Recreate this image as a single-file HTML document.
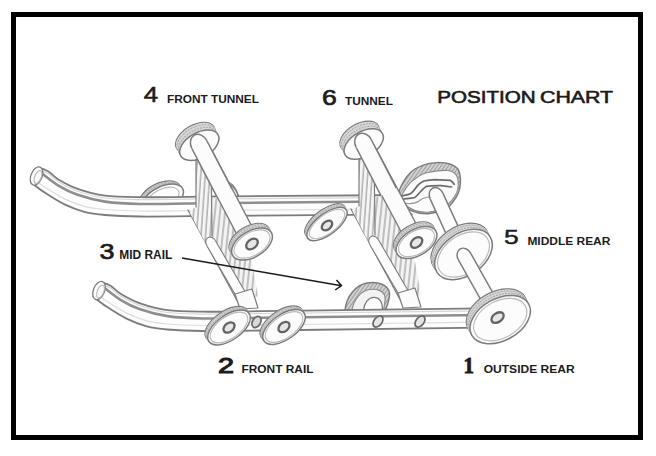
<!DOCTYPE html>
<html><head><meta charset="utf-8"><style>
html,body{margin:0;padding:0;background:#fff;width:656px;height:456px;overflow:hidden}
.frame{position:absolute;left:11px;top:12px;width:622px;height:418px;border:5px solid #000;}
svg{position:absolute;left:0;top:0}
</style></head><body>
<div class="frame"></div>
<svg width="656" height="456" viewBox="0 0 656 456">
<defs>
<filter id="soft" x="0" y="0" width="656" height="456" filterUnits="userSpaceOnUse"><feGaussianBlur stdDeviation="0.35"/></filter>
<clipPath id="clipTop"><rect x="0" y="0" width="656" height="198"/></clipPath>
<pattern id="hatch" width="3" height="3" patternUnits="userSpaceOnUse" patternTransform="rotate(35)"><rect width="3" height="3" fill="#d2d2d2"/><line x1="0.5" y1="0" x2="0.5" y2="3" stroke="#9c9c9c" stroke-width="1"/></pattern>
<pattern id="vhatch" width="4.5" height="4" patternUnits="userSpaceOnUse" patternTransform="rotate(4)"><rect width="4.5" height="4" fill="#f5f5f5"/><line x1="1" y1="0" x2="1" y2="4" stroke="#a0a0a0" stroke-width="1.2"/></pattern>
<pattern id="vhatch2" width="5" height="4" patternUnits="userSpaceOnUse" patternTransform="rotate(6)"><rect width="5" height="4" fill="#f3f3f3"/><line x1="1" y1="0" x2="1" y2="4" stroke="#9c9c9c" stroke-width="1.2"/></pattern>
</defs>
<g filter="url(#soft)">
<g clip-path="url(#clipTop)">
<ellipse cx="160.0" cy="195.5" rx="22.0" ry="12.0" transform="rotate(-26 160.0 195.5)" fill="#d6d6d6" stroke="#7c7c7c" stroke-width="1.5"/>
<ellipse cx="160.4" cy="195.9" rx="22.0" ry="12.0" transform="rotate(-26 160.4 195.9)" fill="#d6d6d6" stroke="none"/>
<ellipse cx="160.8" cy="196.2" rx="22.0" ry="12.0" transform="rotate(-26 160.8 196.2)" fill="#d6d6d6" stroke="none"/>
<ellipse cx="161.1" cy="196.6" rx="22.0" ry="12.0" transform="rotate(-26 161.1 196.6)" fill="#d6d6d6" stroke="none"/>
<ellipse cx="161.5" cy="197.0" rx="22.0" ry="12.0" transform="rotate(-26 161.5 197.0)" fill="#d6d6d6" stroke="none"/>
<ellipse cx="161.9" cy="197.4" rx="22.0" ry="12.0" transform="rotate(-26 161.9 197.4)" fill="#d6d6d6" stroke="none"/>
<ellipse cx="162.2" cy="197.8" rx="22.0" ry="12.0" transform="rotate(-26 162.2 197.8)" fill="#d6d6d6" stroke="none"/>
<ellipse cx="162.6" cy="198.1" rx="22.0" ry="12.0" transform="rotate(-26 162.6 198.1)" fill="#d6d6d6" stroke="none"/>
<ellipse cx="161.9" cy="197.4" rx="22.0" ry="12.0" transform="rotate(-26 161.9 197.4)" fill="none" stroke="#a6a6a6" stroke-width="0.9" stroke-dasharray="2 1"/>
<ellipse cx="160.9" cy="196.4" rx="22.0" ry="12.0" transform="rotate(-26 160.9 196.4)" fill="none" stroke="#a6a6a6" stroke-width="0.9" stroke-dasharray="2 1"/>
<ellipse cx="163.0" cy="198.5" rx="22.0" ry="12.0" transform="rotate(-26 163.0 198.5)" fill="#fcfcfc" stroke="#7c7c7c" stroke-width="1.5"/>
<ellipse cx="163.0" cy="198.5" rx="17.2" ry="9.4" transform="rotate(-26 163.0 198.5)" fill="none" stroke="#b8b8b8" stroke-width="1.1"/>
<ellipse cx="230.5" cy="195.5" rx="7.0" ry="13.5" transform="rotate(-18 230.5 195.5)" fill="#d6d6d6" stroke="#7c7c7c" stroke-width="1.5"/>
<ellipse cx="230.8" cy="196.0" rx="7.0" ry="13.5" transform="rotate(-18 230.8 196.0)" fill="#d6d6d6" stroke="none"/>
<ellipse cx="231.0" cy="196.5" rx="7.0" ry="13.5" transform="rotate(-18 231.0 196.5)" fill="#d6d6d6" stroke="none"/>
<ellipse cx="231.2" cy="197.0" rx="7.0" ry="13.5" transform="rotate(-18 231.2 197.0)" fill="#d6d6d6" stroke="none"/>
<ellipse cx="231.2" cy="196.8" rx="7.0" ry="13.5" transform="rotate(-18 231.2 196.8)" fill="none" stroke="#a6a6a6" stroke-width="0.9" stroke-dasharray="2 1"/>
<ellipse cx="230.8" cy="196.1" rx="7.0" ry="13.5" transform="rotate(-18 230.8 196.1)" fill="none" stroke="#a6a6a6" stroke-width="0.9" stroke-dasharray="2 1"/>
<ellipse cx="231.5" cy="197.5" rx="7.0" ry="13.5" transform="rotate(-18 231.5 197.5)" fill="#fcfcfc" stroke="#7c7c7c" stroke-width="1.5"/>
</g>
<path d="M38.0,167.6 C39.7,168.2 44.7,169.3 48.0,171.2 C51.3,173.1 53.1,176.3 58.0,179.2 C62.9,182.1 69.8,186.1 77.6,188.8 C85.4,191.5 94.6,194.2 105.0,195.6 C115.4,197.0 124.2,197.0 140.0,197.2 C155.8,197.4 190.0,196.7 200.0,196.6 L412,195 L412,214.3 L200.0,216.0 C190.0,216.1 155.8,216.7 140.0,216.5 C124.2,216.3 114.3,215.8 105.0,215.0 C95.7,214.2 91.0,213.6 84.2,211.8 C77.5,210.0 71.1,207.6 64.5,204.4 C57.9,201.2 50.3,196.3 44.7,192.6 C39.1,188.9 33.3,184.1 31.0,182.4Z" fill="#fdfdfd" stroke="none"/>
<path d="M38.0,167.6 C39.7,168.2 44.7,169.3 48.0,171.2 C51.3,173.1 53.1,176.3 58.0,179.2 C62.9,182.1 69.8,186.1 77.6,188.8 C85.4,191.5 94.6,194.2 105.0,195.6 C115.4,197.0 124.2,197.0 140.0,197.2 C155.8,197.4 190.0,196.7 200.0,196.6 L412,195" fill="none" stroke="#7c7c7c" stroke-width="1.8" stroke-linecap="round"/>
<path d="M31.0,182.4 C33.3,184.1 39.1,188.9 44.7,192.6 C50.3,196.3 57.9,201.2 64.5,204.4 C71.1,207.6 77.5,210.0 84.2,211.8 C91.0,213.6 95.7,214.2 105.0,215.0 C114.3,215.8 124.2,216.3 140.0,216.5 C155.8,216.7 190.0,216.1 200.0,216.0 L412,214.3" fill="none" stroke="#7c7c7c" stroke-width="1.8" stroke-linecap="round"/>
<path d="M42.0,173.5 C44.7,175.5 52.1,181.8 58.0,185.3 C63.9,188.9 69.8,192.1 77.6,194.8 C85.4,197.5 94.6,200.1 105.0,201.6 C115.4,203.1 124.2,203.7 140.0,204.0 C155.8,204.3 190.0,203.4 200.0,203.3 L412,201.3" fill="none" stroke="#8e8e8e" stroke-width="2.6" stroke-linecap="round"/>
<path d="M38.0,170.0 C39.7,170.6 44.7,171.7 48.0,173.6 C51.3,175.5 53.1,178.7 58.0,181.6 C62.9,184.5 69.8,188.5 77.6,191.2 C85.4,193.9 94.6,196.6 105.0,198.0 C115.4,199.4 124.2,199.4 140.0,199.6 C155.8,199.8 190.0,199.1 200.0,199.0 L412,197.4" fill="none" stroke="#d6d6d6" stroke-width="1.2" stroke-linecap="round"/>
<path d="M31.0,176.9 C33.3,178.6 39.1,183.4 44.7,187.1 C50.3,190.8 57.9,195.7 64.5,198.9 C71.1,202.1 77.5,204.5 84.2,206.3 C91.0,208.1 95.7,208.7 105.0,209.5 C114.3,210.3 124.2,210.8 140.0,211.0 C155.8,211.2 190.0,210.6 200.0,210.5 L412,208.8" fill="none" stroke="#dedede" stroke-width="1.2" stroke-linecap="round"/>
<ellipse cx="36.5" cy="176.0" rx="5.6" ry="9.6" transform="rotate(22 36.5 176.0)" fill="#fafafa" stroke="#7c7c7c" stroke-width="1.3"/>
<ellipse cx="38.0" cy="177.0" rx="3.2" ry="6.8" transform="rotate(22 38.0 177.0)" fill="none" stroke="#b4b4b4" stroke-width="1"/>
<path d="M399,191 C402,183 406,177 411,172 C418,166 428,163 437,162.6 C445,162.3 453,164 457.5,168.5 C461,173 461,183 459.5,189.6 C458,195 455,200 450,205.4 C444,210 436,213 428,213.8 C420,214 410,212 403,205 C399,200 398,195 399,191 Z" fill="url(#hatch)" stroke="#7c7c7c" stroke-width="1.4"/>
<path d="M403,193 C407,186 411,181 415,179 C420,175 424,173 428,172.5 C435,171 442,170 447.6,170.5 C452,171 455,173 456.5,175.5 C458.5,179 458.5,184 457.8,189.4 C456.5,194.5 453.5,199 448.5,204 C443,208.5 436,211.5 428,212.2 C420,212.5 411,210.5 404.5,204 C401,200 401,196 403,193 Z" fill="#fbfbfb" stroke="#8a8a8a" stroke-width="1.1"/>
<path d="M401.6,196.2 C405,195 408,195 410.8,193.5 C414,191 416,187 418.7,184.3 C420,183 422,182 424,181 C428,180 431,180 434.5,179.7 L450.3,180.4 C452,181 453,182.5 454.2,184.3" fill="none" stroke="#6c6c6c" stroke-width="1.8" stroke-linecap="round"/>
<path d="M402.9,199 C407,198.5 411,198.5 414.7,197.5 C417,196 419,193 421.3,190.9 C423,189 425,187 426.6,186.3 C431,185.5 436,185.6 441,185.6 L451.6,187" fill="none" stroke="#6c6c6c" stroke-width="1.7" stroke-linecap="round"/>
<path d="M404,203 C410,204 415,204 419,201 C422,198 425,197 432,197" fill="none" stroke="#9a9a9a" stroke-width="1.2" stroke-linecap="round"/>
<ellipse cx="325.0" cy="220.5" rx="24.0" ry="10.5" transform="rotate(-37 325.0 220.5)" fill="#d6d6d6" stroke="#7c7c7c" stroke-width="1.5"/>
<ellipse cx="325.2" cy="220.9" rx="24.0" ry="10.5" transform="rotate(-37 325.2 220.9)" fill="#d6d6d6" stroke="none"/>
<ellipse cx="325.5" cy="221.4" rx="24.0" ry="10.5" transform="rotate(-37 325.5 221.4)" fill="#d6d6d6" stroke="none"/>
<ellipse cx="325.8" cy="221.8" rx="24.0" ry="10.5" transform="rotate(-37 325.8 221.8)" fill="#d6d6d6" stroke="none"/>
<ellipse cx="326.0" cy="222.2" rx="24.0" ry="10.5" transform="rotate(-37 326.0 222.2)" fill="#d6d6d6" stroke="none"/>
<ellipse cx="326.2" cy="222.7" rx="24.0" ry="10.5" transform="rotate(-37 326.2 222.7)" fill="#d6d6d6" stroke="none"/>
<ellipse cx="326.5" cy="223.1" rx="24.0" ry="10.5" transform="rotate(-37 326.5 223.1)" fill="#d6d6d6" stroke="none"/>
<ellipse cx="326.8" cy="223.6" rx="24.0" ry="10.5" transform="rotate(-37 326.8 223.6)" fill="#d6d6d6" stroke="none"/>
<ellipse cx="326.3" cy="222.8" rx="24.0" ry="10.5" transform="rotate(-37 326.3 222.8)" fill="none" stroke="#a6a6a6" stroke-width="0.9" stroke-dasharray="2 1"/>
<ellipse cx="325.6" cy="221.6" rx="24.0" ry="10.5" transform="rotate(-37 325.6 221.6)" fill="none" stroke="#a6a6a6" stroke-width="0.9" stroke-dasharray="2 1"/>
<ellipse cx="327.0" cy="224.0" rx="24.0" ry="10.5" transform="rotate(-37 327.0 224.0)" fill="#fcfcfc" stroke="#7c7c7c" stroke-width="1.5"/>
<ellipse cx="327.0" cy="224.0" rx="21.1" ry="9.2" transform="rotate(-37 327.0 224.0)" fill="none" stroke="#b8b8b8" stroke-width="1.1"/>
<ellipse cx="327.0" cy="225.5" rx="6.0" ry="4.0" transform="rotate(-40 327.0 225.5)" fill="#e6e6e6" stroke="#646464" stroke-width="2.3"/>
<path d="M209.0,198.0 L222.0,198.0 L244.0,246.0 L252.0,262.0 L258.0,296.0 L244.0,301.0 L214.0,246.0 L209.0,240.0Z" fill="url(#vhatch2)" stroke="none" stroke-width="1.2" stroke-linejoin="round"/>
<path d="M188.0,210.0 L240.0,306.0" fill="none" stroke="#7c7c7c" stroke-width="1.3" stroke-linecap="round"/>
<path d="M196.0,154.0 L211.0,149.0 L212.0,236.0 L206.0,244.0 L189.0,211.0 L196.0,207.0Z" fill="url(#vhatch)" stroke="none" stroke-width="1.2" stroke-linejoin="round"/>
<path d="M196.0,154.0 L196.0,207.0 M211.0,149.0 L212.0,236.0" fill="none" stroke="#7c7c7c" stroke-width="1.2" stroke-linecap="round"/>
<path d="M206.7,245.5 L238.7,300.5 L247.3,295.5 L215.3,240.5Z" fill="#fcfcfc" stroke="none"/>
<path d="M206.7,245.5 L238.7,300.5 M215.3,240.5 L247.3,295.5" stroke="#7c7c7c" stroke-width="1.1" fill="none"/>
<path d="M206.7,245.5 A5.0,4.0 59.8 0 1 215.3,240.5" fill="#fcfcfc" stroke="#7c7c7c" stroke-width="1.1"/>
<path d="M235.0,294.0 L252.0,289.0 L258.0,308.0 L240.0,309.0Z" fill="#fbfbfb" stroke="#7c7c7c" stroke-width="1.2" stroke-linejoin="round"/>
<path d="M372.0,197.0 L385.0,197.0 L407.0,245.0 L415.0,261.0 L421.0,295.0 L407.0,300.0 L377.0,245.0 L372.0,239.0Z" fill="url(#vhatch2)" stroke="none" stroke-width="1.2" stroke-linejoin="round"/>
<path d="M351.0,209.0 L403.0,305.0" fill="none" stroke="#7c7c7c" stroke-width="1.3" stroke-linecap="round"/>
<path d="M359.0,153.0 L374.0,148.0 L375.0,235.0 L369.0,243.0 L352.0,210.0 L359.0,206.0Z" fill="url(#vhatch)" stroke="none" stroke-width="1.2" stroke-linejoin="round"/>
<path d="M359.0,153.0 L359.0,206.0 M374.0,148.0 L375.0,235.0" fill="none" stroke="#7c7c7c" stroke-width="1.2" stroke-linecap="round"/>
<path d="M369.7,244.5 L401.7,299.5 L410.3,294.5 L378.3,239.5Z" fill="#fcfcfc" stroke="none"/>
<path d="M369.7,244.5 L401.7,299.5 M378.3,239.5 L410.3,294.5" stroke="#7c7c7c" stroke-width="1.1" fill="none"/>
<path d="M369.7,244.5 A5.0,4.0 59.8 0 1 378.3,239.5" fill="#fcfcfc" stroke="#7c7c7c" stroke-width="1.1"/>
<path d="M398.0,293.0 L415.0,288.0 L421.0,307.0 L403.0,308.0Z" fill="#fbfbfb" stroke="#7c7c7c" stroke-width="1.2" stroke-linejoin="round"/>
<path d="M191.8,148.5 L243.5,247.0 L258.5,239.0 L206.8,140.5Z" fill="#fcfcfc" stroke="none"/>
<path d="M191.8,148.5 L243.5,247.0 M206.8,140.5 L258.5,239.0" stroke="#7c7c7c" stroke-width="1.45" fill="none"/>
<path d="M191.8,148.5 A8.5,6.8 62.3 0 1 206.8,140.5" fill="#fcfcfc" stroke="#7c7c7c" stroke-width="1.45"/>
<path d="M356.2,147.5 L409.0,246.5 L424.0,238.5 L371.2,139.5Z" fill="#fcfcfc" stroke="none"/>
<path d="M356.2,147.5 L409.0,246.5 M371.2,139.5 L424.0,238.5" stroke="#7c7c7c" stroke-width="1.45" fill="none"/>
<path d="M356.2,147.5 A8.5,6.8 61.9 0 1 371.2,139.5" fill="#fcfcfc" stroke="#7c7c7c" stroke-width="1.45"/>
<path d="M430.1,198.9 L457.6,258.9 L470.4,253.1 L442.9,193.1Z" fill="#fcfcfc" stroke="none"/>
<path d="M430.1,198.9 L457.6,258.9 M442.9,193.1 L470.4,253.1" stroke="#7c7c7c" stroke-width="1.45" fill="none"/>
<path d="M430.1,198.9 A7.0,5.6 65.4 0 1 442.9,193.1" fill="#fcfcfc" stroke="#7c7c7c" stroke-width="1.45"/>
<ellipse cx="195.3" cy="137.7" rx="21.5" ry="12.5" transform="rotate(-30 195.3 137.7)" fill="#d6d6d6" stroke="#7c7c7c" stroke-width="1.5"/>
<ellipse cx="195.5" cy="138.1" rx="21.5" ry="12.5" transform="rotate(-30 195.5 138.1)" fill="#d6d6d6" stroke="none"/>
<ellipse cx="195.8" cy="138.6" rx="21.5" ry="12.5" transform="rotate(-30 195.8 138.6)" fill="#d6d6d6" stroke="none"/>
<ellipse cx="196.0" cy="139.0" rx="21.5" ry="12.5" transform="rotate(-30 196.0 139.0)" fill="#d6d6d6" stroke="none"/>
<ellipse cx="196.2" cy="139.5" rx="21.5" ry="12.5" transform="rotate(-30 196.2 139.5)" fill="#d6d6d6" stroke="none"/>
<ellipse cx="196.5" cy="139.9" rx="21.5" ry="12.5" transform="rotate(-30 196.5 139.9)" fill="#d6d6d6" stroke="none"/>
<ellipse cx="196.7" cy="140.3" rx="21.5" ry="12.5" transform="rotate(-30 196.7 140.3)" fill="#d6d6d6" stroke="none"/>
<ellipse cx="196.9" cy="140.8" rx="21.5" ry="12.5" transform="rotate(-30 196.9 140.8)" fill="#d6d6d6" stroke="none"/>
<ellipse cx="197.2" cy="141.2" rx="21.5" ry="12.5" transform="rotate(-30 197.2 141.2)" fill="#d6d6d6" stroke="none"/>
<ellipse cx="197.4" cy="141.7" rx="21.5" ry="12.5" transform="rotate(-30 197.4 141.7)" fill="#d6d6d6" stroke="none"/>
<ellipse cx="197.7" cy="142.1" rx="21.5" ry="12.5" transform="rotate(-30 197.7 142.1)" fill="#d6d6d6" stroke="none"/>
<ellipse cx="197.9" cy="142.6" rx="21.5" ry="12.5" transform="rotate(-30 197.9 142.6)" fill="#d6d6d6" stroke="none"/>
<ellipse cx="198.1" cy="143.0" rx="21.5" ry="12.5" transform="rotate(-30 198.1 143.0)" fill="#d6d6d6" stroke="none"/>
<ellipse cx="198.4" cy="143.4" rx="21.5" ry="12.5" transform="rotate(-30 198.4 143.4)" fill="#d6d6d6" stroke="none"/>
<ellipse cx="198.6" cy="143.9" rx="21.5" ry="12.5" transform="rotate(-30 198.6 143.9)" fill="#d6d6d6" stroke="none"/>
<ellipse cx="198.8" cy="144.3" rx="21.5" ry="12.5" transform="rotate(-30 198.8 144.3)" fill="#d6d6d6" stroke="none"/>
<ellipse cx="199.1" cy="144.8" rx="21.5" ry="12.5" transform="rotate(-30 199.1 144.8)" fill="#d6d6d6" stroke="none"/>
<ellipse cx="197.9" cy="142.6" rx="21.5" ry="12.5" transform="rotate(-30 197.9 142.6)" fill="none" stroke="#a6a6a6" stroke-width="0.9" stroke-dasharray="2 1"/>
<ellipse cx="196.5" cy="139.9" rx="21.5" ry="12.5" transform="rotate(-30 196.5 139.9)" fill="none" stroke="#a6a6a6" stroke-width="0.9" stroke-dasharray="2 1"/>
<ellipse cx="199.3" cy="145.2" rx="21.5" ry="12.5" transform="rotate(-30 199.3 145.2)" fill="#fcfcfc" stroke="#7c7c7c" stroke-width="1.5"/>
<ellipse cx="359.7" cy="136.5" rx="21.5" ry="12.5" transform="rotate(-30 359.7 136.5)" fill="#d6d6d6" stroke="#7c7c7c" stroke-width="1.5"/>
<ellipse cx="359.9" cy="136.9" rx="21.5" ry="12.5" transform="rotate(-30 359.9 136.9)" fill="#d6d6d6" stroke="none"/>
<ellipse cx="360.2" cy="137.4" rx="21.5" ry="12.5" transform="rotate(-30 360.2 137.4)" fill="#d6d6d6" stroke="none"/>
<ellipse cx="360.4" cy="137.8" rx="21.5" ry="12.5" transform="rotate(-30 360.4 137.8)" fill="#d6d6d6" stroke="none"/>
<ellipse cx="360.6" cy="138.3" rx="21.5" ry="12.5" transform="rotate(-30 360.6 138.3)" fill="#d6d6d6" stroke="none"/>
<ellipse cx="360.9" cy="138.7" rx="21.5" ry="12.5" transform="rotate(-30 360.9 138.7)" fill="#d6d6d6" stroke="none"/>
<ellipse cx="361.1" cy="139.1" rx="21.5" ry="12.5" transform="rotate(-30 361.1 139.1)" fill="#d6d6d6" stroke="none"/>
<ellipse cx="361.3" cy="139.6" rx="21.5" ry="12.5" transform="rotate(-30 361.3 139.6)" fill="#d6d6d6" stroke="none"/>
<ellipse cx="361.6" cy="140.0" rx="21.5" ry="12.5" transform="rotate(-30 361.6 140.0)" fill="#d6d6d6" stroke="none"/>
<ellipse cx="361.8" cy="140.5" rx="21.5" ry="12.5" transform="rotate(-30 361.8 140.5)" fill="#d6d6d6" stroke="none"/>
<ellipse cx="362.1" cy="140.9" rx="21.5" ry="12.5" transform="rotate(-30 362.1 140.9)" fill="#d6d6d6" stroke="none"/>
<ellipse cx="362.3" cy="141.4" rx="21.5" ry="12.5" transform="rotate(-30 362.3 141.4)" fill="#d6d6d6" stroke="none"/>
<ellipse cx="362.5" cy="141.8" rx="21.5" ry="12.5" transform="rotate(-30 362.5 141.8)" fill="#d6d6d6" stroke="none"/>
<ellipse cx="362.8" cy="142.2" rx="21.5" ry="12.5" transform="rotate(-30 362.8 142.2)" fill="#d6d6d6" stroke="none"/>
<ellipse cx="363.0" cy="142.7" rx="21.5" ry="12.5" transform="rotate(-30 363.0 142.7)" fill="#d6d6d6" stroke="none"/>
<ellipse cx="363.2" cy="143.1" rx="21.5" ry="12.5" transform="rotate(-30 363.2 143.1)" fill="#d6d6d6" stroke="none"/>
<ellipse cx="363.5" cy="143.6" rx="21.5" ry="12.5" transform="rotate(-30 363.5 143.6)" fill="#d6d6d6" stroke="none"/>
<ellipse cx="362.3" cy="141.4" rx="21.5" ry="12.5" transform="rotate(-30 362.3 141.4)" fill="none" stroke="#a6a6a6" stroke-width="0.9" stroke-dasharray="2 1"/>
<ellipse cx="360.9" cy="138.8" rx="21.5" ry="12.5" transform="rotate(-30 360.9 138.8)" fill="none" stroke="#a6a6a6" stroke-width="0.9" stroke-dasharray="2 1"/>
<ellipse cx="363.7" cy="144.0" rx="21.5" ry="12.5" transform="rotate(-30 363.7 144.0)" fill="#fcfcfc" stroke="#7c7c7c" stroke-width="1.5"/>
<path d="M191.8,148.4 L217.0,196.9 L232.0,189.1 L206.8,140.6Z" fill="#fcfcfc" stroke="none"/>
<path d="M191.8,148.4 L217.0,196.9 M206.8,140.6 L232.0,189.1" stroke="#7c7c7c" stroke-width="1.45" fill="none"/>
<path d="M191.8,148.4 A8.5,6.8 62.5 0 1 206.8,140.6" fill="#fcfcfc" stroke="#7c7c7c" stroke-width="1.45"/>
<path d="M356.1,147.4 L381.1,195.9 L396.3,188.1 L371.3,139.6Z" fill="#fcfcfc" stroke="none"/>
<path d="M356.1,147.4 L381.1,195.9 M371.3,139.6 L396.3,188.1" stroke="#7c7c7c" stroke-width="1.45" fill="none"/>
<path d="M356.1,147.4 A8.5,6.8 62.7 0 1 371.3,139.6" fill="#fcfcfc" stroke="#7c7c7c" stroke-width="1.45"/>
<ellipse cx="249.5" cy="239.5" rx="22.5" ry="13.0" transform="rotate(-31 249.5 239.5)" fill="#d6d6d6" stroke="#7c7c7c" stroke-width="1.5"/>
<ellipse cx="249.8" cy="239.9" rx="22.5" ry="13.0" transform="rotate(-31 249.8 239.9)" fill="#d6d6d6" stroke="none"/>
<ellipse cx="250.0" cy="240.4" rx="22.5" ry="13.0" transform="rotate(-31 250.0 240.4)" fill="#d6d6d6" stroke="none"/>
<ellipse cx="250.2" cy="240.8" rx="22.5" ry="13.0" transform="rotate(-31 250.2 240.8)" fill="#d6d6d6" stroke="none"/>
<ellipse cx="250.5" cy="241.3" rx="22.5" ry="13.0" transform="rotate(-31 250.5 241.3)" fill="#d6d6d6" stroke="none"/>
<ellipse cx="250.8" cy="241.8" rx="22.5" ry="13.0" transform="rotate(-31 250.8 241.8)" fill="#d6d6d6" stroke="none"/>
<ellipse cx="251.0" cy="242.2" rx="22.5" ry="13.0" transform="rotate(-31 251.0 242.2)" fill="#d6d6d6" stroke="none"/>
<ellipse cx="251.2" cy="242.7" rx="22.5" ry="13.0" transform="rotate(-31 251.2 242.7)" fill="#d6d6d6" stroke="none"/>
<ellipse cx="251.5" cy="243.1" rx="22.5" ry="13.0" transform="rotate(-31 251.5 243.1)" fill="#d6d6d6" stroke="none"/>
<ellipse cx="251.8" cy="243.6" rx="22.5" ry="13.0" transform="rotate(-31 251.8 243.6)" fill="#d6d6d6" stroke="none"/>
<ellipse cx="251.1" cy="242.4" rx="22.5" ry="13.0" transform="rotate(-31 251.1 242.4)" fill="none" stroke="#a6a6a6" stroke-width="0.9" stroke-dasharray="2 1"/>
<ellipse cx="250.2" cy="240.8" rx="22.5" ry="13.0" transform="rotate(-31 250.2 240.8)" fill="none" stroke="#a6a6a6" stroke-width="0.9" stroke-dasharray="2 1"/>
<ellipse cx="252.0" cy="244.0" rx="22.5" ry="13.0" transform="rotate(-31 252.0 244.0)" fill="#fcfcfc" stroke="#7c7c7c" stroke-width="1.5"/>
<ellipse cx="252.0" cy="244.0" rx="19.8" ry="11.4" transform="rotate(-31 252.0 244.0)" fill="none" stroke="#b8b8b8" stroke-width="1.1"/>
<ellipse cx="252.0" cy="244.0" rx="6.5" ry="4.5" transform="rotate(-40 252.0 244.0)" fill="#e6e6e6" stroke="#646464" stroke-width="2.3"/>
<ellipse cx="414.0" cy="238.0" rx="22.5" ry="13.0" transform="rotate(-31 414.0 238.0)" fill="#d6d6d6" stroke="#7c7c7c" stroke-width="1.5"/>
<ellipse cx="414.2" cy="238.4" rx="22.5" ry="13.0" transform="rotate(-31 414.2 238.4)" fill="#d6d6d6" stroke="none"/>
<ellipse cx="414.5" cy="238.9" rx="22.5" ry="13.0" transform="rotate(-31 414.5 238.9)" fill="#d6d6d6" stroke="none"/>
<ellipse cx="414.8" cy="239.3" rx="22.5" ry="13.0" transform="rotate(-31 414.8 239.3)" fill="#d6d6d6" stroke="none"/>
<ellipse cx="415.0" cy="239.8" rx="22.5" ry="13.0" transform="rotate(-31 415.0 239.8)" fill="#d6d6d6" stroke="none"/>
<ellipse cx="415.2" cy="240.2" rx="22.5" ry="13.0" transform="rotate(-31 415.2 240.2)" fill="#d6d6d6" stroke="none"/>
<ellipse cx="415.5" cy="240.7" rx="22.5" ry="13.0" transform="rotate(-31 415.5 240.7)" fill="#d6d6d6" stroke="none"/>
<ellipse cx="415.8" cy="241.2" rx="22.5" ry="13.0" transform="rotate(-31 415.8 241.2)" fill="#d6d6d6" stroke="none"/>
<ellipse cx="416.0" cy="241.6" rx="22.5" ry="13.0" transform="rotate(-31 416.0 241.6)" fill="#d6d6d6" stroke="none"/>
<ellipse cx="416.2" cy="242.1" rx="22.5" ry="13.0" transform="rotate(-31 416.2 242.1)" fill="#d6d6d6" stroke="none"/>
<ellipse cx="415.6" cy="240.9" rx="22.5" ry="13.0" transform="rotate(-31 415.6 240.9)" fill="none" stroke="#a6a6a6" stroke-width="0.9" stroke-dasharray="2 1"/>
<ellipse cx="414.8" cy="239.3" rx="22.5" ry="13.0" transform="rotate(-31 414.8 239.3)" fill="none" stroke="#a6a6a6" stroke-width="0.9" stroke-dasharray="2 1"/>
<ellipse cx="416.5" cy="242.5" rx="22.5" ry="13.0" transform="rotate(-31 416.5 242.5)" fill="#fcfcfc" stroke="#7c7c7c" stroke-width="1.5"/>
<ellipse cx="416.5" cy="242.5" rx="19.8" ry="11.4" transform="rotate(-31 416.5 242.5)" fill="none" stroke="#b8b8b8" stroke-width="1.1"/>
<ellipse cx="416.5" cy="242.5" rx="6.5" ry="4.5" transform="rotate(-40 416.5 242.5)" fill="#e6e6e6" stroke="#646464" stroke-width="2.3"/>
<ellipse cx="460.0" cy="248.5" rx="32.0" ry="21.0" transform="rotate(-35 460.0 248.5)" fill="#d6d6d6" stroke="#7c7c7c" stroke-width="1.5"/>
<ellipse cx="460.3" cy="249.0" rx="32.0" ry="21.0" transform="rotate(-35 460.3 249.0)" fill="#d6d6d6" stroke="none"/>
<ellipse cx="460.5" cy="249.4" rx="32.0" ry="21.0" transform="rotate(-35 460.5 249.4)" fill="#d6d6d6" stroke="none"/>
<ellipse cx="460.8" cy="249.9" rx="32.0" ry="21.0" transform="rotate(-35 460.8 249.9)" fill="#d6d6d6" stroke="none"/>
<ellipse cx="461.1" cy="250.3" rx="32.0" ry="21.0" transform="rotate(-35 461.1 250.3)" fill="#d6d6d6" stroke="none"/>
<ellipse cx="461.3" cy="250.8" rx="32.0" ry="21.0" transform="rotate(-35 461.3 250.8)" fill="#d6d6d6" stroke="none"/>
<ellipse cx="461.6" cy="251.3" rx="32.0" ry="21.0" transform="rotate(-35 461.6 251.3)" fill="#d6d6d6" stroke="none"/>
<ellipse cx="461.9" cy="251.7" rx="32.0" ry="21.0" transform="rotate(-35 461.9 251.7)" fill="#d6d6d6" stroke="none"/>
<ellipse cx="462.2" cy="252.2" rx="32.0" ry="21.0" transform="rotate(-35 462.2 252.2)" fill="#d6d6d6" stroke="none"/>
<ellipse cx="462.4" cy="252.7" rx="32.0" ry="21.0" transform="rotate(-35 462.4 252.7)" fill="#d6d6d6" stroke="none"/>
<ellipse cx="462.7" cy="253.1" rx="32.0" ry="21.0" transform="rotate(-35 462.7 253.1)" fill="#d6d6d6" stroke="none"/>
<ellipse cx="463.0" cy="253.6" rx="32.0" ry="21.0" transform="rotate(-35 463.0 253.6)" fill="#d6d6d6" stroke="none"/>
<ellipse cx="463.2" cy="254.0" rx="32.0" ry="21.0" transform="rotate(-35 463.2 254.0)" fill="#d6d6d6" stroke="none"/>
<ellipse cx="462.3" cy="252.4" rx="32.0" ry="21.0" transform="rotate(-35 462.3 252.4)" fill="none" stroke="#a6a6a6" stroke-width="0.9" stroke-dasharray="2 1"/>
<ellipse cx="461.1" cy="250.3" rx="32.0" ry="21.0" transform="rotate(-35 461.1 250.3)" fill="none" stroke="#a6a6a6" stroke-width="0.9" stroke-dasharray="2 1"/>
<ellipse cx="463.5" cy="254.5" rx="32.0" ry="21.0" transform="rotate(-35 463.5 254.5)" fill="#fcfcfc" stroke="#7c7c7c" stroke-width="1.5"/>
<ellipse cx="463.5" cy="254.5" rx="28.8" ry="18.9" transform="rotate(-35 463.5 254.5)" fill="none" stroke="#b8b8b8" stroke-width="1.1"/>
<path d="M458.4,259.9 L492.9,321.4 L505.1,314.6 L470.6,253.1Z" fill="#fcfcfc" stroke="none"/>
<path d="M458.4,259.9 L492.9,321.4 M470.6,253.1 L505.1,314.6" stroke="#7c7c7c" stroke-width="1.45" fill="none"/>
<path d="M458.4,259.9 A7.0,5.6 60.7 0 1 470.6,253.1" fill="#fcfcfc" stroke="#7c7c7c" stroke-width="1.45"/>
<path d="M345,310 C346.5,296 356,285 367,283 C378,281 388.5,285 389.5,293 C390,299 387.5,305 385.5,310 Z" fill="url(#hatch)" stroke="#7c7c7c" stroke-width="1.4"/>
<path d="M352,310 C354,299 361,291 369.5,289.5 C377,288.5 384,291 385,297 C385.5,301 384.5,305 383.5,310 Z" fill="#f2f2f2" stroke="#8a8a8a" stroke-width="1.1"/>
<path d="M363.5,310 C364.5,302.5 368.5,297.5 374,297.4 C379,297.3 382.5,301 382.5,310 Z" fill="#fdfdfd" stroke="#7c7c7c" stroke-width="1.3"/>
<path d="M100.5,282.1 C102.2,282.7 107.2,283.8 110.5,285.7 C113.8,287.6 115.6,290.8 120.5,293.7 C125.4,296.6 132.3,300.6 140.1,303.3 C147.9,306.0 157.1,308.7 167.5,310.1 C177.9,311.5 186.7,311.5 202.5,311.7 C218.3,311.9 252.5,311.2 262.5,311.1 L482,308.4 L482,327.6 L262.5,330.5 C252.5,330.6 218.3,331.2 202.5,331.0 C186.7,330.8 176.8,330.3 167.5,329.5 C158.2,328.7 153.4,328.1 146.7,326.3 C139.9,324.5 133.6,322.1 127.0,318.9 C120.4,315.7 112.8,310.8 107.2,307.1 C101.6,303.4 95.8,298.6 93.5,296.9Z" fill="#fdfdfd" stroke="none"/>
<path d="M100.5,282.1 C102.2,282.7 107.2,283.8 110.5,285.7 C113.8,287.6 115.6,290.8 120.5,293.7 C125.4,296.6 132.3,300.6 140.1,303.3 C147.9,306.0 157.1,308.7 167.5,310.1 C177.9,311.5 186.7,311.5 202.5,311.7 C218.3,311.9 252.5,311.2 262.5,311.1 L482,308.4" fill="none" stroke="#7c7c7c" stroke-width="1.8" stroke-linecap="round"/>
<path d="M93.5,296.9 C95.8,298.6 101.6,303.4 107.2,307.1 C112.8,310.8 120.4,315.7 127.0,318.9 C133.6,322.1 139.9,324.5 146.7,326.3 C153.4,328.1 158.2,328.7 167.5,329.5 C176.8,330.3 186.7,330.8 202.5,331.0 C218.3,331.2 252.5,330.6 262.5,330.5 L482,327.6" fill="none" stroke="#7c7c7c" stroke-width="1.8" stroke-linecap="round"/>
<path d="M104.5,288.0 C107.2,290.0 114.6,296.2 120.5,299.8 C126.4,303.4 132.3,306.6 140.1,309.3 C147.9,312.0 157.1,314.6 167.5,316.1 C177.9,317.6 186.7,318.2 202.5,318.5 C218.3,318.8 252.5,317.9 262.5,317.8 L482,315" fill="none" stroke="#8e8e8e" stroke-width="2.6" stroke-linecap="round"/>
<path d="M100.5,284.5 C102.2,285.1 107.2,286.2 110.5,288.1 C113.8,290.0 115.6,293.2 120.5,296.1 C125.4,299.0 132.3,303.0 140.1,305.7 C147.9,308.4 157.1,311.1 167.5,312.5 C177.9,313.9 186.7,313.9 202.5,314.1 C218.3,314.3 252.5,313.6 262.5,313.5 L482,310.79999999999995" fill="none" stroke="#d6d6d6" stroke-width="1.2" stroke-linecap="round"/>
<path d="M93.5,291.4 C95.8,293.1 101.6,297.9 107.2,301.6 C112.8,305.3 120.4,310.2 127.0,313.4 C133.6,316.6 139.9,319.0 146.7,320.8 C153.4,322.6 158.2,323.2 167.5,324.0 C176.8,324.8 186.7,325.3 202.5,325.5 C218.3,325.7 252.5,325.1 262.5,325.0 L482,322.1" fill="none" stroke="#dedede" stroke-width="1.2" stroke-linecap="round"/>
<ellipse cx="99.0" cy="290.5" rx="5.6" ry="9.6" transform="rotate(22 99.0 290.5)" fill="#fafafa" stroke="#7c7c7c" stroke-width="1.3"/>
<ellipse cx="100.5" cy="291.5" rx="3.2" ry="6.8" transform="rotate(22 100.5 291.5)" fill="none" stroke="#b4b4b4" stroke-width="1"/>
<ellipse cx="378.0" cy="321.5" rx="4.0" ry="6.3" transform="rotate(38 378.0 321.5)" fill="#e4e4e4" stroke="#666666" stroke-width="1.7"/>
<ellipse cx="420.0" cy="321.5" rx="4.0" ry="6.3" transform="rotate(38 420.0 321.5)" fill="#e4e4e4" stroke="#666666" stroke-width="1.7"/>
<ellipse cx="256.5" cy="322.0" rx="4.0" ry="6.0" transform="rotate(30 256.5 322.0)" fill="#d8d8d8" stroke="#666666" stroke-width="1.7"/>
<ellipse cx="496.7" cy="313.1" rx="32.5" ry="21.0" transform="rotate(-28.7 496.7 313.1)" fill="#d6d6d6" stroke="#7c7c7c" stroke-width="1.5"/>
<ellipse cx="496.9" cy="313.6" rx="32.5" ry="21.0" transform="rotate(-28.7 496.9 313.6)" fill="#d6d6d6" stroke="none"/>
<ellipse cx="497.2" cy="314.0" rx="32.5" ry="21.0" transform="rotate(-28.7 497.2 314.0)" fill="#d6d6d6" stroke="none"/>
<ellipse cx="497.4" cy="314.5" rx="32.5" ry="21.0" transform="rotate(-28.7 497.4 314.5)" fill="#d6d6d6" stroke="none"/>
<ellipse cx="497.7" cy="315.0" rx="32.5" ry="21.0" transform="rotate(-28.7 497.7 315.0)" fill="#d6d6d6" stroke="none"/>
<ellipse cx="497.9" cy="315.4" rx="32.5" ry="21.0" transform="rotate(-28.7 497.9 315.4)" fill="#d6d6d6" stroke="none"/>
<ellipse cx="498.2" cy="315.9" rx="32.5" ry="21.0" transform="rotate(-28.7 498.2 315.9)" fill="#d6d6d6" stroke="none"/>
<ellipse cx="498.4" cy="316.4" rx="32.5" ry="21.0" transform="rotate(-28.7 498.4 316.4)" fill="#d6d6d6" stroke="none"/>
<ellipse cx="498.7" cy="316.8" rx="32.5" ry="21.0" transform="rotate(-28.7 498.7 316.8)" fill="#d6d6d6" stroke="none"/>
<ellipse cx="498.9" cy="317.3" rx="32.5" ry="21.0" transform="rotate(-28.7 498.9 317.3)" fill="#d6d6d6" stroke="none"/>
<ellipse cx="499.2" cy="317.7" rx="32.5" ry="21.0" transform="rotate(-28.7 499.2 317.7)" fill="#d6d6d6" stroke="none"/>
<ellipse cx="499.4" cy="318.2" rx="32.5" ry="21.0" transform="rotate(-28.7 499.4 318.2)" fill="#d6d6d6" stroke="none"/>
<ellipse cx="499.7" cy="318.7" rx="32.5" ry="21.0" transform="rotate(-28.7 499.7 318.7)" fill="#d6d6d6" stroke="none"/>
<ellipse cx="499.9" cy="319.1" rx="32.5" ry="21.0" transform="rotate(-28.7 499.9 319.1)" fill="#d6d6d6" stroke="none"/>
<ellipse cx="499.0" cy="317.3" rx="32.5" ry="21.0" transform="rotate(-28.7 499.0 317.3)" fill="none" stroke="#a6a6a6" stroke-width="0.9" stroke-dasharray="2 1"/>
<ellipse cx="497.8" cy="315.1" rx="32.5" ry="21.0" transform="rotate(-28.7 497.8 315.1)" fill="none" stroke="#a6a6a6" stroke-width="0.9" stroke-dasharray="2 1"/>
<ellipse cx="500.2" cy="319.6" rx="32.5" ry="21.0" transform="rotate(-28.7 500.2 319.6)" fill="#fcfcfc" stroke="#7c7c7c" stroke-width="1.5"/>
<ellipse cx="500.2" cy="319.6" rx="28.6" ry="18.5" transform="rotate(-28.7 500.2 319.6)" fill="none" stroke="#b8b8b8" stroke-width="1.1"/>
<ellipse cx="497.6" cy="317.6" rx="6.8" ry="4.5" transform="rotate(-35 497.6 317.6)" fill="#e6e6e6" stroke="#646464" stroke-width="2.3"/>
<ellipse cx="226.5" cy="324.0" rx="24.5" ry="12.5" transform="rotate(-35 226.5 324.0)" fill="#d6d6d6" stroke="#7c7c7c" stroke-width="1.5"/>
<ellipse cx="226.8" cy="324.4" rx="24.5" ry="12.5" transform="rotate(-35 226.8 324.4)" fill="#d6d6d6" stroke="none"/>
<ellipse cx="227.1" cy="324.9" rx="24.5" ry="12.5" transform="rotate(-35 227.1 324.9)" fill="#d6d6d6" stroke="none"/>
<ellipse cx="227.4" cy="325.3" rx="24.5" ry="12.5" transform="rotate(-35 227.4 325.3)" fill="#d6d6d6" stroke="none"/>
<ellipse cx="227.8" cy="325.8" rx="24.5" ry="12.5" transform="rotate(-35 227.8 325.8)" fill="#d6d6d6" stroke="none"/>
<ellipse cx="228.1" cy="326.2" rx="24.5" ry="12.5" transform="rotate(-35 228.1 326.2)" fill="#d6d6d6" stroke="none"/>
<ellipse cx="228.4" cy="326.6" rx="24.5" ry="12.5" transform="rotate(-35 228.4 326.6)" fill="#d6d6d6" stroke="none"/>
<ellipse cx="228.7" cy="327.1" rx="24.5" ry="12.5" transform="rotate(-35 228.7 327.1)" fill="#d6d6d6" stroke="none"/>
<ellipse cx="228.1" cy="326.3" rx="24.5" ry="12.5" transform="rotate(-35 228.1 326.3)" fill="none" stroke="#a6a6a6" stroke-width="0.9" stroke-dasharray="2 1"/>
<ellipse cx="227.2" cy="325.1" rx="24.5" ry="12.5" transform="rotate(-35 227.2 325.1)" fill="none" stroke="#a6a6a6" stroke-width="0.9" stroke-dasharray="2 1"/>
<ellipse cx="229.0" cy="327.5" rx="24.5" ry="12.5" transform="rotate(-35 229.0 327.5)" fill="#fcfcfc" stroke="#7c7c7c" stroke-width="1.5"/>
<ellipse cx="229.0" cy="327.5" rx="21.6" ry="11.0" transform="rotate(-35 229.0 327.5)" fill="none" stroke="#b8b8b8" stroke-width="1.1"/>
<ellipse cx="229.0" cy="327.5" rx="6.3" ry="4.3" transform="rotate(-40 229.0 327.5)" fill="#e6e6e6" stroke="#646464" stroke-width="2.3"/>
<ellipse cx="281.5" cy="323.5" rx="24.5" ry="12.5" transform="rotate(-35 281.5 323.5)" fill="#d6d6d6" stroke="#7c7c7c" stroke-width="1.5"/>
<ellipse cx="281.8" cy="323.9" rx="24.5" ry="12.5" transform="rotate(-35 281.8 323.9)" fill="#d6d6d6" stroke="none"/>
<ellipse cx="282.1" cy="324.4" rx="24.5" ry="12.5" transform="rotate(-35 282.1 324.4)" fill="#d6d6d6" stroke="none"/>
<ellipse cx="282.4" cy="324.8" rx="24.5" ry="12.5" transform="rotate(-35 282.4 324.8)" fill="#d6d6d6" stroke="none"/>
<ellipse cx="282.8" cy="325.2" rx="24.5" ry="12.5" transform="rotate(-35 282.8 325.2)" fill="#d6d6d6" stroke="none"/>
<ellipse cx="283.1" cy="325.7" rx="24.5" ry="12.5" transform="rotate(-35 283.1 325.7)" fill="#d6d6d6" stroke="none"/>
<ellipse cx="283.4" cy="326.1" rx="24.5" ry="12.5" transform="rotate(-35 283.4 326.1)" fill="#d6d6d6" stroke="none"/>
<ellipse cx="283.7" cy="326.6" rx="24.5" ry="12.5" transform="rotate(-35 283.7 326.6)" fill="#d6d6d6" stroke="none"/>
<ellipse cx="283.1" cy="325.8" rx="24.5" ry="12.5" transform="rotate(-35 283.1 325.8)" fill="none" stroke="#a6a6a6" stroke-width="0.9" stroke-dasharray="2 1"/>
<ellipse cx="282.2" cy="324.6" rx="24.5" ry="12.5" transform="rotate(-35 282.2 324.6)" fill="none" stroke="#a6a6a6" stroke-width="0.9" stroke-dasharray="2 1"/>
<ellipse cx="284.0" cy="327.0" rx="24.5" ry="12.5" transform="rotate(-35 284.0 327.0)" fill="#fcfcfc" stroke="#7c7c7c" stroke-width="1.5"/>
<ellipse cx="284.0" cy="327.0" rx="21.6" ry="11.0" transform="rotate(-35 284.0 327.0)" fill="none" stroke="#b8b8b8" stroke-width="1.1"/>
<ellipse cx="284.0" cy="327.0" rx="6.3" ry="4.3" transform="rotate(-40 284.0 327.0)" fill="#e6e6e6" stroke="#646464" stroke-width="2.3"/>
<path d="M182,258 L341.5,285.7 M336.5,280 L341.5,285.7 L335.2,290" stroke="#1a1a1a" stroke-width="1.5" fill="none"/>
</g>
<text x="143.8" y="102.3" font-family='"Liberation Sans", sans-serif' font-weight="normal" font-size="22.5" fill="#1c1a1c" textLength="14.4" lengthAdjust="spacingAndGlyphs" stroke="#1c1a1c" stroke-width="0.55">4</text>
<text x="167" y="102.5" font-family='"Liberation Sans", sans-serif' font-weight="bold" font-size="11.2" fill="#1c1a1c" textLength="92" lengthAdjust="spacingAndGlyphs">FRONT TUNNEL</text>
<text x="322" y="104.6" font-family='"Liberation Sans", sans-serif' font-weight="normal" font-size="22.3" fill="#1c1a1c" textLength="14.8" lengthAdjust="spacingAndGlyphs" stroke="#1c1a1c" stroke-width="0.7">6</text>
<text x="345" y="104.5" font-family='"Liberation Sans", sans-serif' font-weight="bold" font-size="11.8" fill="#1c1a1c" textLength="48" lengthAdjust="spacingAndGlyphs">TUNNEL</text>
<text x="437.2" y="103" font-family='"Liberation Sans", sans-serif' font-weight="normal" font-size="16.8" fill="#1c1a1c" textLength="98.5" lengthAdjust="spacingAndGlyphs" stroke="#1c1a1c" stroke-width="0.6">POSITION</text>
<text x="540" y="103" font-family='"Liberation Sans", sans-serif' font-weight="normal" font-size="16.8" fill="#1c1a1c" textLength="73" lengthAdjust="spacingAndGlyphs" stroke="#1c1a1c" stroke-width="0.6">CHART</text>
<text x="99.5" y="258.7" font-family='"Liberation Sans", sans-serif' font-weight="normal" font-size="22.5" fill="#1c1a1c" textLength="15" lengthAdjust="spacingAndGlyphs" stroke="#1c1a1c" stroke-width="0.7">3</text>
<text x="119.3" y="259" font-family='"Liberation Sans", sans-serif' font-weight="bold" font-size="12.2" fill="#1c1a1c" textLength="53" lengthAdjust="spacingAndGlyphs">MID RAIL</text>
<text x="218" y="373" font-family='"Liberation Sans", sans-serif' font-weight="normal" font-size="22.5" fill="#1c1a1c" textLength="16" lengthAdjust="spacingAndGlyphs" stroke="#1c1a1c" stroke-width="1.1">2</text>
<text x="241.5" y="372.6" font-family='"Liberation Sans", sans-serif' font-weight="bold" font-size="11.5" fill="#1c1a1c" textLength="72" lengthAdjust="spacingAndGlyphs">FRONT RAIL</text>
<text x="463.4" y="372.8" font-family='"Liberation Serif", serif' font-weight="bold" font-size="23.5" fill="#1c1a1c" textLength="10.5" lengthAdjust="spacingAndGlyphs" stroke="#1c1a1c" stroke-width="0.9">1</text>
<text x="483.7" y="372.8" font-family='"Liberation Sans", sans-serif' font-weight="bold" font-size="11.8" fill="#1c1a1c" textLength="91" lengthAdjust="spacingAndGlyphs">OUTSIDE REAR</text>
<text x="504" y="243.5" font-family='"Liberation Sans", sans-serif' font-weight="normal" font-size="20.8" fill="#1c1a1c" textLength="14.8" lengthAdjust="spacingAndGlyphs" stroke="#1c1a1c" stroke-width="0.45">5</text>
<text x="527.4" y="244.6" font-family='"Liberation Sans", sans-serif' font-weight="bold" font-size="11.4" fill="#1c1a1c" textLength="83" lengthAdjust="spacingAndGlyphs">MIDDLE REAR</text>
</svg>
</body></html>
